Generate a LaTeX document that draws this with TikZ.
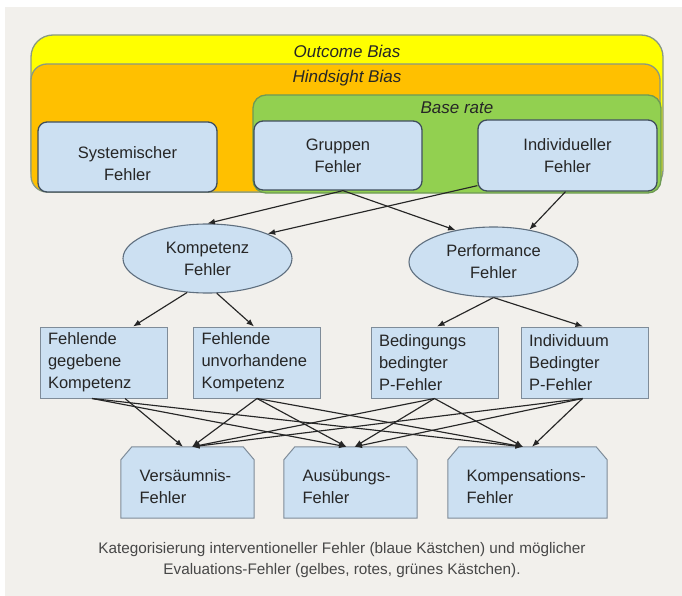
\documentclass[tikz,border=0pt]{standalone}
\usepackage{fontspec}
\setmainfont{Liberation Sans}
\usetikzlibrary{shapes.geometric,arrows.meta}
\definecolor{bg}{HTML}{F2F0EC}
\definecolor{ylw}{HTML}{FFFF00}
\definecolor{org}{HTML}{FFC000}
\definecolor{grn}{HTML}{92D050}
\definecolor{lblue}{HTML}{CCE0F2}
\definecolor{biasedge}{HTML}{8A9A82}
\definecolor{grnedge}{HTML}{6E9A55}
\definecolor{bedge}{HTML}{3F4E5C}
\definecolor{eedge}{HTML}{5F6F7F}
\definecolor{redge}{HTML}{7F8C99}
\definecolor{ink}{HTML}{262626}
\tikzset{
  txt/.style={font=\fontsize{16.5}{22}\selectfont, text=ink},
  capt/.style={font=\fontsize{15.3}{21}\selectfont, text=ink!85, align=center},
  biaslbl/.style={font=\fontsize{17}{20}\selectfont\itshape, text=ink},
  biasbox/.style={draw=biasedge, line width=1.3pt},
  topbox/.style={draw=bedge, line width=1.3pt, fill=lblue, rounded corners=9pt, inner sep=0pt},
  ell/.style={ellipse, draw=eedge, line width=1.1pt, fill=lblue, align=center, txt, inner sep=0pt},
  midbox/.style={rectangle, draw=redge, line width=1pt, fill=lblue, align=left, txt,
    inner xsep=8pt, inner ysep=0pt, text width=111pt, minimum height=71pt},
  botframe/.style={rectangle, inner sep=0pt},
  botdraw/.style={draw=redge, line width=1pt, fill=lblue},
  arr/.style={-{Latex[length=7.5pt,width=6pt]}, draw=ink, line width=1.15pt},
}
\begin{document}
\begin{tikzpicture}[x=1pt,y=-1pt]
\useasboundingbox (0,0) rectangle (682,596);
\fill[white] (0,0) rectangle (682,596);
\fill[bg] (5,7) rectangle (682,596);

% bias regions
\draw[biasbox, fill=ylw, rounded corners=22pt] (31,35) rectangle (663,192);
\draw[biasbox, fill=org, rounded corners=16pt] (31,64) rectangle (660,192);
\draw[draw=grnedge, line width=1.3pt, fill=grn, rounded corners=13pt] (253,95) rectangle (661,193);
\node[biaslbl] (outcome) at (347,51) {Outcome Bias};
\node[biaslbl] (hindsight) at (347,78) {Hindsight Bias};
\node[biaslbl] (baserate) at (457,108) {Base rate};

% top boxes
\node[topbox, minimum width=179pt, minimum height=70pt] (sys) at (127.5,157) {};
\node[txt, align=center] (systxt) at (127.5,163.5) {Systemischer\\Fehler};
\node[topbox, txt, align=center, minimum width=168pt, minimum height=69pt] (grp) at (338,155.5) {Gruppen\\Fehler};
\node[topbox, txt, align=center, minimum width=179pt, minimum height=71pt] (ind) at (567.5,155.5) {Individueller\\Fehler};

% ellipses
\node[ell, minimum width=169pt, minimum height=69pt] (komp) at (207.5,258.5) {Kompetenz\\Fehler};
\node[ell, minimum width=169pt, minimum height=70pt] (perf) at (493.5,262) {Performance\\Fehler};

% middle boxes
\node[midbox] (fgk) at (103.5,362.5) {Fehlende\\gegebene\\Kompetenz};
\node[midbox] (fuk) at (257,362.5) {Fehlende\\unvorhandene\\Kompetenz};
\node[midbox] (bbp) at (434.5,362.5) {Bedingungs\\bedingter\\P-Fehler};
\node[midbox] (ibp) at (584.5,362.5) {Individuum\\Bedingter\\P-Fehler};

% bottom boxes (chamfered)
\node[botframe, minimum width=133pt, minimum height=71pt] (vers) at (187.5,482.5) {};
\node[botframe, minimum width=133pt, minimum height=71pt] (ausu) at (350.5,482.5) {};
\node[botframe, minimum width=159pt, minimum height=71pt] (kmps) at (527.5,482.5) {};
\foreach \n in {vers,ausu,kmps}{
  \draw[botdraw] (\n.south west) -- ([yshift=-13pt]\n.north west) -- ([xshift=11pt]\n.north west)
    -- ([xshift=-11pt]\n.north east) -- ([yshift=-13pt]\n.north east) -- (\n.south east) -- cycle;
}
\node[txt, anchor=west, align=left] (verstxt) at (136,487) {Versäumnis-\\Fehler};
\node[txt, anchor=west, align=left] (ausutxt) at (299,487) {Ausübungs-\\Fehler};
\node[txt, anchor=west, align=left] (kmpstxt) at (463,487) {Kompensations-\\Fehler};

% top arrows
\draw[arr] ([xshift=5pt]grp.south) -- (komp.north);
\draw[arr] ([xshift=5pt]grp.south) -- (perf.140);
\draw[arr] ([yshift=6pt]ind.south west) -- (komp.north east);
\draw[arr] ([xshift=-2pt]ind.south) -- (perf.42);

% ellipse to boxes
\draw[arr] (komp.-121) -- ([xshift=29.5pt]fgk.north);
\draw[arr] (komp.-75) -- ([xshift=-3pt]fuk.north);
\draw[arr] (perf.south) -- ([xshift=2.5pt]bbp.north);
\draw[arr] (perf.south) -- ([xshift=-1.5pt]ibp.north);

% boxes to bottom
\draw[arr] ([xshift=21.5pt]fgk.south) -- ([xshift=-4.5pt]vers.north);
\draw[arr] ([xshift=-11.5pt]fgk.south) -- ([xshift=-4pt]ausu.north);
\draw[arr] ([xshift=-11.5pt]fgk.south) -- ([xshift=-4.5pt]kmps.north);
\draw[arr] (fuk.south) -- ([xshift=4.5pt]vers.north);
\draw[arr] (fuk.south) -- ([xshift=-4pt]ausu.north);
\draw[arr] (fuk.south) -- ([xshift=-4.5pt]kmps.north);
\draw[arr] (bbp.south) -- ([xshift=4.5pt]vers.north);
\draw[arr] (bbp.south) -- ([xshift=4pt]ausu.north);
\draw[arr] (bbp.south) -- ([xshift=-4.5pt]kmps.north);
\draw[arr] ([xshift=-2pt]ibp.south) -- ([xshift=4.5pt]vers.north);
\draw[arr] ([xshift=-2pt]ibp.south) -- ([xshift=4pt]ausu.north);
\draw[arr] ([xshift=-2pt]ibp.south) -- ([xshift=4.5pt]kmps.north);

% caption
\node[capt] (caption) at (342,560.5) {Kategorisierung interventioneller Fehler (blaue Kästchen) und möglicher\\Evaluations-Fehler (gelbes, rotes, grünes Kästchen).};
\end{tikzpicture}
\end{document}
